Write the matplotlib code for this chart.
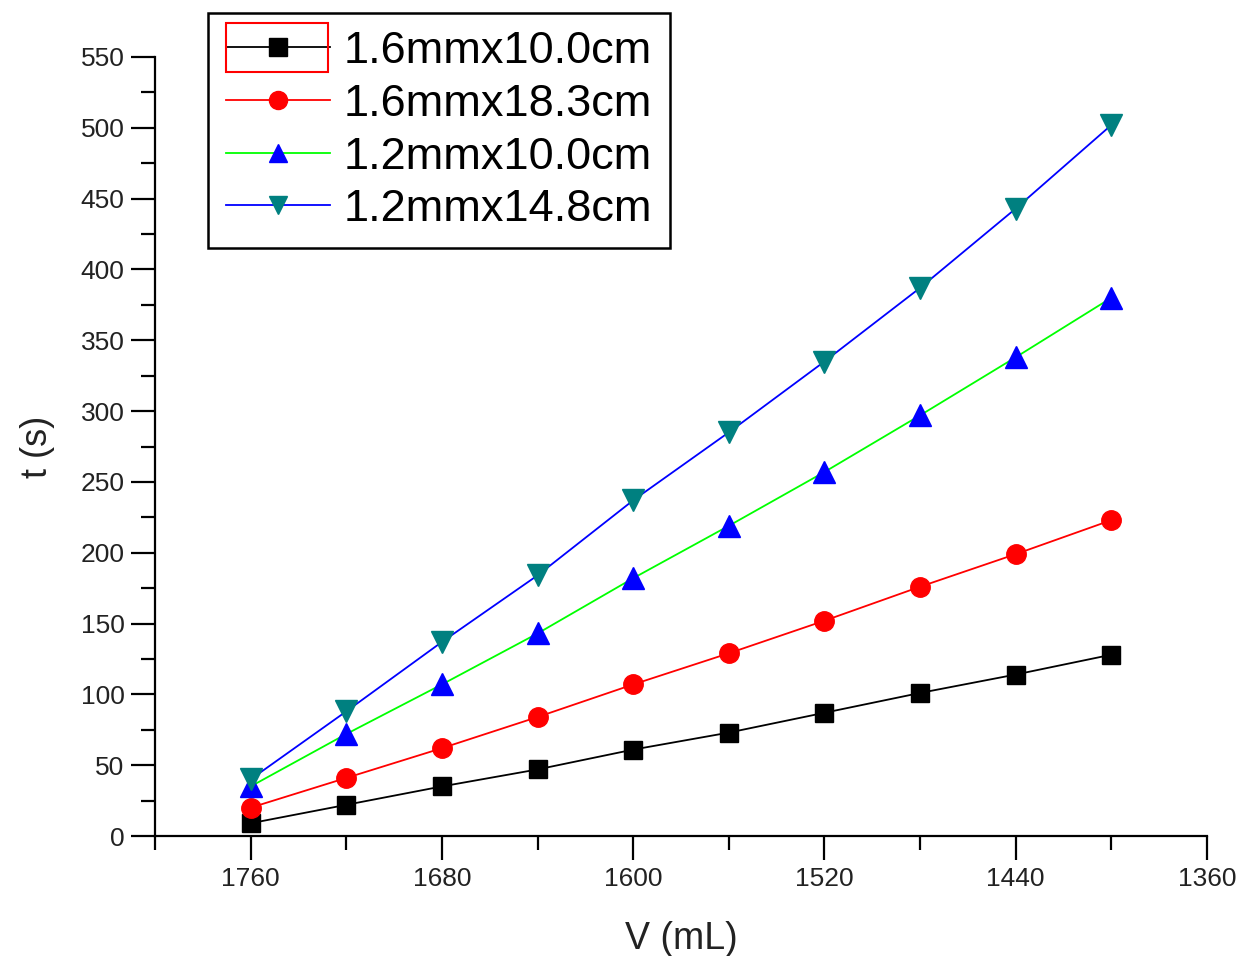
import matplotlib
matplotlib.use('Agg')
import matplotlib.pyplot as plt
from matplotlib.ticker import MultipleLocator
from matplotlib.patches import Rectangle

plt.rcParams['font.family'] = ['Liberation Sans', 'DejaVu Sans']

# volume readings (mL), same for every tube
volume = [1760, 1720, 1680, 1640, 1600, 1560, 1520, 1480, 1440, 1400]

# drain time (s) per tube
t_16_100 = [9, 22, 35, 47, 61, 73, 87, 101, 114, 128]
t_16_183 = [20, 41, 62, 84, 107, 129, 152, 176, 199, 223]
t_12_100 = [35, 72, 107, 143, 182, 219, 257, 297, 338, 380]
t_12_148 = [40, 88, 137, 184, 237, 285, 335, 387, 443, 502]

labels = ['1.6mmx10.0cm', '1.6mmx18.3cm', '1.2mmx10.0cm', '1.2mmx14.8cm']

fig = plt.figure(figsize=(12.43, 9.56), dpi=100)
ax = fig.add_axes([155/1243, 1 - 836/956, (1207 - 155)/1243, (836 - 57)/956])

ax.plot(volume, t_16_100, color='black', lw=1.3, marker='s', ms=13,
        mfc='black', mec='black', label=labels[0])
ax.plot(volume, t_16_183, color='red', lw=1.3, marker='o', ms=14,
        mfc='red', mec='red', label=labels[1])
ax.plot(volume, t_12_100, color='#00ff00', lw=1.3, marker='^', ms=16,
        mfc='blue', mec='blue', label=labels[2])
ax.plot(volume, t_12_148, color='blue', lw=1.3, marker='v', ms=16,
        mfc='#008080', mec='#008080', label=labels[3])

ax.set_xlim(1800, 1360)
ax.set_ylim(0, 550)
ax.xaxis.set_major_locator(MultipleLocator(80))
ax.xaxis.set_minor_locator(MultipleLocator(40))
ax.yaxis.set_major_locator(MultipleLocator(50))
ax.yaxis.set_minor_locator(MultipleLocator(25))

for s in ['top', 'right']:
    ax.spines[s].set_visible(False)
for s in ['left', 'bottom']:
    ax.spines[s].set_linewidth(1.6)
ax.tick_params(which='major', direction='out', length=17, width=1.6,
               labelsize=19, labelcolor='#222222', pad=5)
ax.tick_params(which='minor', direction='out', length=10, width=1.6)
ax.set_xlabel('V (mL)', fontsize=27, color='#222222', labelpad=22)
ax.set_ylabel('t (s)', fontsize=26, color='#222222', labelpad=18)

leg = ax.legend(loc='upper left', bbox_to_anchor=(208/1243, 1 - 13/956),
                bbox_transform=fig.transFigure, fontsize=32.5, frameon=True,
                fancybox=False, edgecolor='black', framealpha=1,
                handlelength=2.3, handletextpad=0.3, borderpad=0.4,
                labelspacing=0.26, borderaxespad=0)
leg.get_frame().set_linewidth(1.8)
for h in leg.legend_handles:
    h.set_markersize(13)

# selection box drawn around the first legend handle
fig.patches.append(Rectangle((226/1243, 1 - 72/956), 102/1243, 49/956,
                             transform=fig.transFigure, fill=False,
                             edgecolor='red', lw=1.5, zorder=10))

fig.savefig('out.png', dpi=100)
